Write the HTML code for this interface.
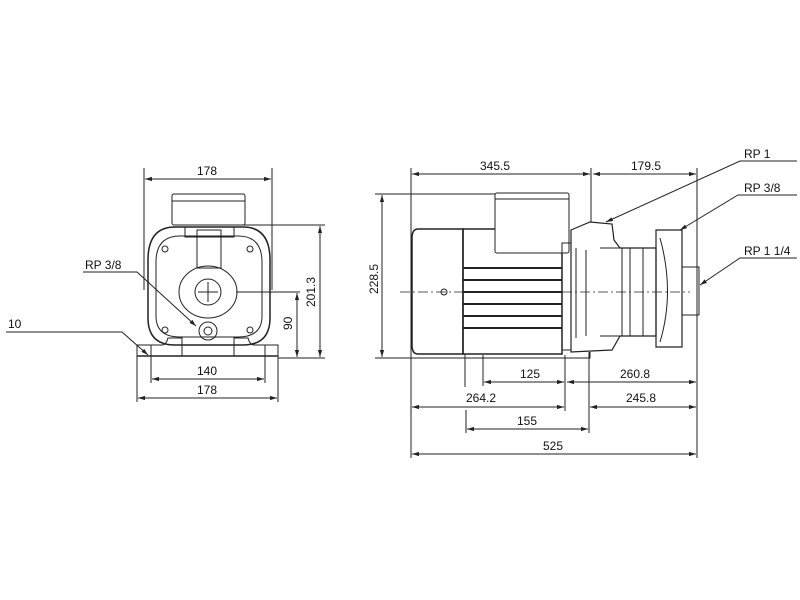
<!DOCTYPE html>
<html><head><style>body{margin:0;background:#fff}svg{display:block}text{font-family:"Liberation Sans",sans-serif;font-size:12px;fill:#111}</style></head><body>
<svg width="800" height="600" viewBox="0 0 800 600" xmlns="http://www.w3.org/2000/svg" stroke="#222" fill="none" stroke-width="1">
<defs><marker id="a" viewBox="0 0 10 10" refX="10" refY="5" markerWidth="7" markerHeight="7" orient="auto-start-reverse"><path d="M0,2 L10,5 L0,8z" fill="#222" stroke="none"/></marker></defs>
<!-- LEFT VIEW -->
<g>
<line x1="144" y1="168" x2="144" y2="290"/><line x1="272" y1="168" x2="272" y2="290"/>
<line x1="145" y1="179" x2="271" y2="179" marker-start="url(#a)" marker-end="url(#a)"/>
<text x="197" y="175" stroke="none">178</text>
<rect x="172" y="194" width="73" height="31" rx="2"/><line x1="172" y1="201" x2="245" y2="201"/>
<path d="M148,260 Q148,227 175,227 L243,227 Q270,227 270,260 L270,318 Q270,345 243,345 L175,345 Q148,345 148,318Z" stroke-width="1.5"/>
<path d="M156,262 Q156,236 180,236 L238,236 Q262,236 262,262 L262,316 Q262,337 238,337 L180,337 Q156,337 156,316Z"/>
<path d="M185,227 L185,237 L234,237 L234,227"/><rect x="197" y="230" width="24" height="38"/>
<ellipse cx="208" cy="292" rx="29" ry="26"/><circle cx="208" cy="292" r="13"/>
<line x1="198" y1="292" x2="218" y2="292"/><line x1="208" y1="282" x2="208" y2="302"/>
<circle cx="208" cy="331" r="9"/><circle cx="208" cy="331" r="4"/>
<circle cx="165" cy="249" r="3"/><circle cx="250" cy="249" r="3"/><circle cx="165" cy="330" r="3"/><circle cx="250" cy="330" r="3"/>
<path d="M137,356 L137,345 L162,345 Q166,345 168,338 L182,338 L182,356 Z"/>
<path d="M278,356 L278,345 L254,345 Q250,345 248,338 L234,338 L234,356 Z"/>
<line x1="137" y1="356" x2="278" y2="356" stroke-width="1.5"/>
<line x1="236" y1="225" x2="325" y2="225"/><line x1="236" y1="292" x2="300" y2="292"/><line x1="278" y1="358" x2="325" y2="358"/>
<line x1="320" y1="226" x2="320" y2="357" marker-start="url(#a)" marker-end="url(#a)"/>
<line x1="297" y1="293" x2="297" y2="357" marker-start="url(#a)" marker-end="url(#a)"/>
<text transform="translate(315,307) rotate(-90)" stroke="none">201.3</text>
<text transform="translate(292,330) rotate(-90)" stroke="none">90</text>
<line x1="151" y1="345" x2="151" y2="383"/><line x1="265" y1="345" x2="265" y2="383"/>
<line x1="137" y1="356" x2="137" y2="402"/><line x1="278" y1="356" x2="278" y2="402"/>
<line x1="152" y1="379" x2="264" y2="379" marker-start="url(#a)" marker-end="url(#a)"/>
<line x1="138" y1="398" x2="277" y2="398" marker-start="url(#a)" marker-end="url(#a)"/>
<text x="197" y="375" stroke="none">140</text><text x="197" y="394" stroke="none">178</text>
<text x="85" y="269" stroke="none">RP 3/8</text>
<polyline points="83,272 137,272 196,326" marker-end="url(#a)"/>
<text x="8" y="328" stroke="none">10</text>
<polyline points="6,332 122,332 148,355" marker-end="url(#a)"/>
</g>
<!-- RIGHT VIEW -->
<g>
<line x1="411" y1="168" x2="411" y2="458"/><line x1="697" y1="168" x2="697" y2="458"/><line x1="591" y1="168" x2="591" y2="222"/>
<line x1="412" y1="174" x2="590" y2="174" marker-start="url(#a)" marker-end="url(#a)"/>
<line x1="593" y1="174" x2="696" y2="174" marker-start="url(#a)" marker-end="url(#a)"/>
<text x="480" y="170" stroke="none">345.5</text><text x="631" y="170" stroke="none">179.5</text>
<line x1="375" y1="194" x2="500" y2="194"/><line x1="375" y1="358" x2="465" y2="358"/>
<line x1="382" y1="195" x2="382" y2="357" marker-start="url(#a)" marker-end="url(#a)"/>
<text transform="translate(378,294) rotate(-90)" stroke="none">228.5</text>
<path d="M418,229 L463,229 L463,354 L418,354 Q412,354 412,345 L412,238 Q412,229 418,229Z" stroke-width="1.5"/>
<rect x="463" y="229" width="99" height="125" stroke-width="1.5"/>
<rect x="495" y="193" width="74" height="60" rx="2" fill="#fff"/>
<line x1="495" y1="199" x2="569" y2="199"/>
<g stroke-width="2"><line x1="463" y1="268" x2="562" y2="268"/><line x1="463" y1="280" x2="562" y2="280"/><line x1="463" y1="292" x2="562" y2="292"/><line x1="463" y1="304" x2="562" y2="304"/><line x1="463" y1="316" x2="562" y2="316"/><line x1="463" y1="328" x2="562" y2="328"/></g>
<circle cx="444" cy="292" r="3"/>
<rect x="562" y="243" width="9" height="107"/>
<path d="M571,230 L590,222 L612,224 L614,240 L620,248 L656,248 L656,336 L620,336 L612,350 L571,352Z" stroke-width="1.2"/>
<line x1="576" y1="248" x2="576" y2="338"/><line x1="586" y1="250" x2="586" y2="336"/>
<line x1="600" y1="248" x2="656" y2="248"/><line x1="600" y1="336" x2="656" y2="336"/>
<line x1="622" y1="248" x2="622" y2="336"/><line x1="630" y1="248" x2="630" y2="336"/><line x1="643" y1="248" x2="643" y2="336"/>
<path d="M656,230 L682,230 L682,347 L656,347 Z" stroke-width="1.2"/>
<path d="M660,238 Q675,292 660,342"/>
<rect x="682" y="267" width="17" height="48"/>
<line x1="400" y1="292" x2="690" y2="292" stroke-dasharray="10,3,2,3" stroke-width="0.7"/>
<path d="M465,354 L465,358 L590,358 L590,352"/><line x1="586" y1="358" x2="590" y2="358"/>
<line x1="465" y1="358" x2="465" y2="387"/><line x1="483" y1="355" x2="483" y2="386"/><line x1="565" y1="355" x2="565" y2="411"/><line x1="589" y1="352" x2="589" y2="433"/><line x1="466" y1="410" x2="466" y2="433"/>
<line x1="484" y1="382" x2="564" y2="382" marker-start="url(#a)" marker-end="url(#a)"/>
<line x1="567" y1="382" x2="696" y2="382" marker-start="url(#a)" marker-end="url(#a)"/>
<line x1="412" y1="407" x2="564" y2="407" marker-start="url(#a)" marker-end="url(#a)"/>
<line x1="590" y1="407" x2="696" y2="407" marker-start="url(#a)" marker-end="url(#a)"/>
<line x1="467" y1="429" x2="588" y2="429" marker-start="url(#a)" marker-end="url(#a)"/>
<line x1="412" y1="454" x2="696" y2="454" marker-start="url(#a)" marker-end="url(#a)"/>
<text x="520" y="378" stroke="none">125</text><text x="620" y="378" stroke="none">260.8</text>
<text x="466" y="402" stroke="none">264.2</text><text x="626" y="402" stroke="none">245.8</text>
<text x="517" y="425" stroke="none">155</text><text x="543" y="450" stroke="none">525</text>
<text x="744" y="158" stroke="none">RP 1</text>
<polyline points="797,161 740,161 606,222" marker-end="url(#a)"/>
<text x="744" y="192" stroke="none">RP 3/8</text>
<polyline points="797,195 738,195 680,230" marker-end="url(#a)"/>
<text x="744" y="255" stroke="none">RP 1 1/4</text>
<polyline points="797,258 740,258 700,285" marker-end="url(#a)"/>
</g>
</svg>
</body></html>
